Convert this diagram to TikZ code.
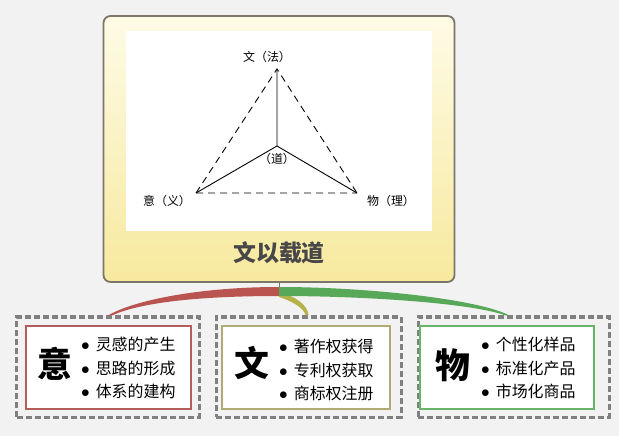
\documentclass[tikz,border=0pt]{standalone}
\usepackage{fontspec}
\newfontfamily\cjk{Noto Sans CJK SC}
\usetikzlibrary{positioning,calc}
\definecolor{bg}{HTML}{F2F2F2}
\definecolor{frame}{HTML}{7C766A}
\definecolor{paletop}{HTML}{FEFBE6}
\definecolor{palebot}{HTML}{F7E99E}
\definecolor{dashgray}{HTML}{808080}
\definecolor{yired}{HTML}{B25E5C}
\definecolor{wenol}{HTML}{AEAC72}
\definecolor{wugr}{HTML}{6AB46A}
\definecolor{bryi}{HTML}{B95450}
\definecolor{brwen}{HTML}{B5B24A}
\definecolor{brwu}{HTML}{58A85A}
\tikzset{
  outer/.style={draw=dashgray, line width=3bp, dash pattern=on 6bp off 3bp,
    minimum height=100bp, inner sep=0pt},
  inner/.style={draw=#1, fill=white, line width=1.5bp, minimum height=83bp, inner sep=0pt},
  big/.style={font=\cjk\bfseries\fontsize{35}{35}\selectfont, inner sep=0pt},
  items/.style={font=\cjk\fontsize{16}{23.5}\selectfont, align=left, anchor=west, inner sep=0pt},
  lab/.style={font=\cjk\fontsize{12}{12}\selectfont, inner sep=0pt},
}
\newcommand{\itm}{$\bullet$\hspace{6bp}}
\begin{document}
\begin{tikzpicture}[x=1bp,y=-1bp]
\fill[bg] (0,0) rectangle (619,436);
\useasboundingbox (0,0) rectangle (619,436);

\node[draw=frame, line width=1.8bp, rounded corners=7bp, top color=paletop, bottom color=palebot,
  minimum width=351bp, minimum height=266bp, inner sep=0pt] (dao) at (279,149) {};
\node[fill=white, minimum width=306bp, minimum height=200bp, inner sep=0pt] (pic) at (279,131) {};
\node[font=\cjk\bfseries\fontsize{23}{23}\selectfont, text=black!72, inner sep=0pt] (title) at (279,253) {文以载道};

\coordinate (wen) at (277,69);
\coordinate (yi) at (196,193);
\coordinate (wu) at (357,193);
\coordinate (c) at (277,146);
\draw[line width=0.9bp] (wen) -- (c) (yi) -- (c) -- (wu);
\draw[line width=0.9bp, dash pattern=on 7bp off 5bp] (yi) -- (wen) -- (wu) (yi) -- (wu);
\node[lab] (lwen) at (267,57) {文（法）};
\node[lab] (ldao) at (277,159) {（道）};
\node[lab] (lyi) at (167,201) {意（义）};
\node[lab] (lwu) at (391,201) {物（理）};

\node[outer, minimum width=182bp] (yiout) at (108,367) {};
\node[outer, minimum width=185bp, right=14bp of yiout] (wenout) {};
\node[outer, minimum width=191bp, right=14bp of wenout] (wuout) {};
\node[inner=yired, minimum width=165bp] (yiin) at (108.5,367.5) {};
\node[inner=wenol, minimum width=168bp] (wenin) at (306,367.5) {};
\node[inner=wugr, minimum width=174bp] (wuin) at (507,367.5) {};

\node[big] (yibig) at (55,364) {意};
\node[big] (wenbig) at (252,363) {文};
\node[big] (wubig) at (453,365) {物};
\node[items] (yilist) at (81,368) {\itm 灵感的产生\\\itm 思路的形成\\\itm 体系的建构};
\node[items] (wenlist) at (279,370) {\itm 著作权获得\\\itm 专利权获取\\\itm 商标权注册};
\node[items] (wulist) at (481,368) {\itm 个性化样品\\\itm 标准化产品\\\itm 市场化商品};

\coordinate (root) at (279,291);
\draw[frame, line width=1bp] (dao.south) -- (root);
\fill[brwen] ($(root)+(1,2)$) .. controls +(14,2) and +(0,-10) .. ($(wenout.north)+(0,0)$)
  -- ($(wenout.north)+(-3,0)$) .. controls +(-1,-8) and +(10,3) .. ($(root)+(0,6)$) -- cycle;
\fill[bryi] ($(root)+(0,-4)$) .. controls +(-80,0) and +(25,-15) .. ($(yiout.north)+(0,0)$)
  -- ($(yiout.north)+(4,0)$) .. controls +(28,-13) and +(-80,0) .. ($(root)+(0,5)$) -- cycle;
\fill[brwu] ($(root)+(0,-4)$) .. controls +(90,0) and +(-30,-16) .. ($(wuout.north)+(-4,0)$)
  -- ($(wuout.north)+(-8,0)$) .. controls +(-32,-12) and +(90,0) .. ($(root)+(0,5)$) -- cycle;
\end{tikzpicture}
\end{document}
